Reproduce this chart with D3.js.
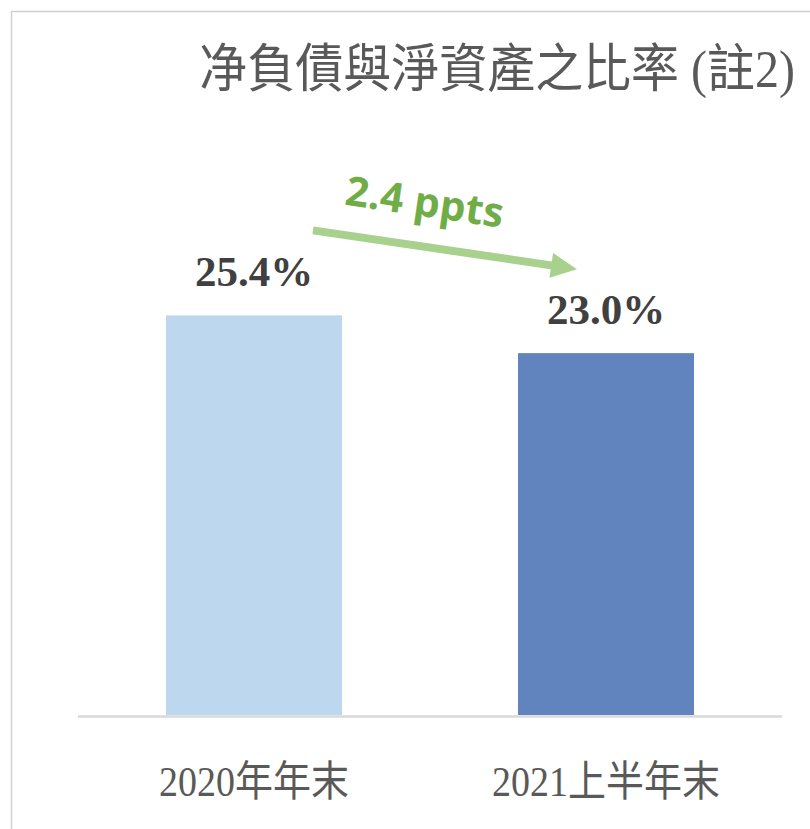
<!DOCTYPE html>
<html>
<head>
<meta charset="utf-8">
<script src="https://cdn.jsdelivr.net/npm/d3@7"></script>
<style>
  body { margin: 0; background: #fff; }
  svg { display: block; }
</style>
</head>
<body>
<div id="chart"></div>
<script>
// Chart data
const categories = ["2020年年末", "2021上半年末"];
const values = [25.4, 23.0];
const barColors = ["#bdd7ee", "#6184be"];
const valueLabels = ["25.4%", "23.0%"];
const changeLabel = "2.4 ppts";
const title = "净負債與淨資產之比率 (註2)";

const width = 810;
const height = 829;

const svg = d3.select("#chart").append("svg")
    .attr("width", width)
    .attr("height", height);

// Outer frame (runs past the right and bottom edges)
svg.append("rect")
    .attr("x", 11.5)
    .attr("y", 11.5)
    .attr("width", width + 20)
    .attr("height", height + 20)
    .attr("fill", "none")
    .attr("stroke", "#d0d0d0")
    .attr("stroke-width", 1.5);

// Scales
const x = d3.scaleBand()
    .domain(categories)
    .range([78, 782])
    .paddingInner(0.5)
    .paddingOuter(0.25);

const y = d3.scaleLinear()
    .domain([0, 30])
    .range([715, 243]);

// Title (glyphs in the original are a bit taller than wide)
svg.append("g")
    .attr("transform", "translate(795,87) scale(1,1.1)")
  .append("text")
    .attr("text-anchor", "end")
    .attr("fill", "#595959")
    .style("font-family", "'Liberation Serif', 'Noto Sans CJK TC', serif")
    .style("font-size", "48px")
    .text(title);

// Bars
svg.append("g")
    .selectAll("rect")
    .data(values)
    .enter().append("rect")
    .attr("x", (d, i) => x(categories[i]))
    .attr("y", d => y(d))
    .attr("width", x.bandwidth())
    .attr("height", d => y(0) - y(d))
    .attr("fill", (d, i) => barColors[i]);

// Baseline
svg.append("line")
    .attr("x1", x.range()[0])
    .attr("x2", x.range()[1])
    .attr("y1", y(0) + 1.5)
    .attr("y2", y(0) + 1.5)
    .attr("stroke", "#d9d9d9")
    .attr("stroke-width", 2.5);

// Value labels
svg.append("g")
    .selectAll("text")
    .data(values)
    .enter().append("text")
    .attr("x", (d, i) => x(categories[i]) + x.bandwidth() / 2)
    .attr("y", d => y(d) - 29)
    .attr("text-anchor", "middle")
    .attr("fill", "#404040")
    .style("font-family", "'Liberation Serif', serif")
    .style("font-weight", "bold")
    .style("font-size", "43px")
    .text((d, i) => valueLabels[i]);

// Category labels
const xAxis = d3.axisBottom(x).tickSize(0).tickPadding(0);
const gx = svg.append("g")
    .attr("transform", `translate(0,${y(0) + 81})`)
    .call(xAxis);
gx.select(".domain").remove();
gx.selectAll("text")
    .attr("dy", 0)
    .attr("transform", "scale(1,1.12)")
    .attr("fill", "#595959")
    .style("font-family", "'Liberation Serif', 'Noto Sans CJK TC', serif")
    .style("font-size", "38px");

// Change arrow between the two bars
const cx0 = x(categories[0]) + x.bandwidth() / 2;
const cx1 = x(categories[1]) + x.bandwidth() / 2;
const p0 = [cx0 + 59, y(values[0]) - 85];
const p1 = [cx1 - 29, y(values[1]) - 84];
const ang = Math.atan2(p1[1] - p0[1], p1[0] - p0[0]);
const len = Math.hypot(p1[0] - p0[0], p1[1] - p0[1]);
const headLen = 26, headHalf = 12.5, shaft = 4;

const arrow = svg.append("g")
    .attr("transform", `translate(${p0[0]},${p0[1]}) rotate(${ang * 180 / Math.PI})`);
arrow.append("path")
    .attr("d", [
        [0, -shaft], [len - headLen, -shaft], [len - headLen, -headHalf],
        [len, 0], [len - headLen, headHalf], [len - headLen, shaft], [0, shaft]
    ].map((p, i) => (i ? "L" : "M") + p[0] + "," + p[1]).join("") + "Z")
    .attr("fill", "#a9d18e");

arrow.append("text")
    .attr("x", len / 2 - 27)
    .attr("y", -30)
    .attr("text-anchor", "middle")
    .attr("fill", "#70ad47")
    .style("font-family", "'Open Sans', sans-serif")
    .style("font-weight", "bold")
    .style("font-size", "41px")
    .text(changeLabel);
</script>
</body>
</html>
